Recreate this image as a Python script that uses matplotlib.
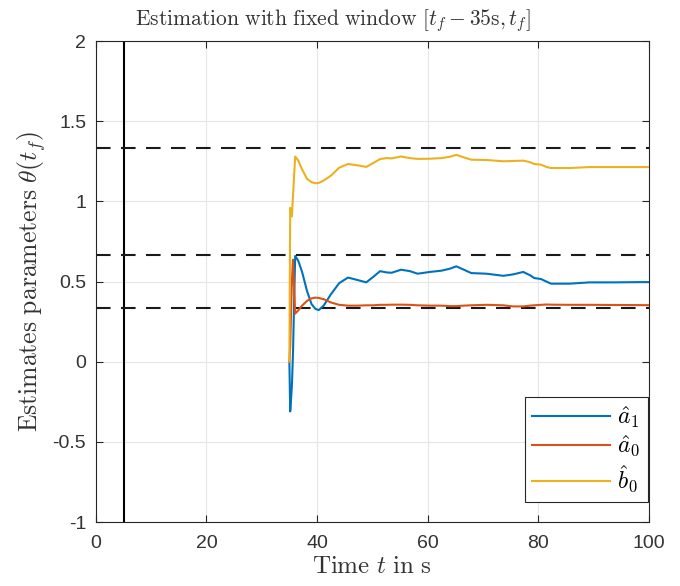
import matplotlib
matplotlib.use("Agg")
import matplotlib.pyplot as plt

# ---- data ----
t = [35, 35.15, 35.45, 35.65, 36.05, 36.6, 37.3, 38.2, 39.0, 39.7, 40.3, 41.2, 42.5, 44.0,
     45.6, 47.3, 48.9, 50.2, 51.4, 52.6, 53.5, 55.2, 56.8, 58.2, 60.4, 62.5, 64.0, 65.2,
     66.5, 67.9, 70.7, 73.7, 75.5, 77.3, 78.5, 79.3, 80.5, 81.5, 82.3, 85.7, 89.3, 93.5, 100]
a1_hat = [0, -0.31, -0.155, 0.05, 0.66, 0.63, 0.56, 0.44, 0.36, 0.33, 0.322, 0.35, 0.42, 0.49,
          0.525, 0.51, 0.495, 0.53, 0.565, 0.557, 0.555, 0.574, 0.565, 0.549, 0.56, 0.568, 0.58, 0.595,
          0.575, 0.553, 0.549, 0.536, 0.545, 0.56, 0.54, 0.522, 0.516, 0.50, 0.487, 0.487, 0.495, 0.495, 0.497]
a0_hat = [0, 0.1, 0.5, 0.636, 0.30, 0.32, 0.35, 0.38, 0.395, 0.40, 0.398, 0.39, 0.37, 0.355,
          0.35, 0.35, 0.352, 0.352, 0.355, 0.355, 0.356, 0.356, 0.355, 0.352, 0.35, 0.35, 0.347, 0.347,
          0.35, 0.352, 0.355, 0.352, 0.345, 0.345, 0.35, 0.352, 0.355, 0.357, 0.356, 0.355, 0.355, 0.354, 0.353]
b0_hat = [0, 0.96, 0.906, 1.03, 1.28, 1.255, 1.20, 1.14, 1.12, 1.113, 1.115, 1.13, 1.16, 1.21,
          1.233, 1.225, 1.215, 1.24, 1.264, 1.27, 1.268, 1.28, 1.27, 1.265, 1.266, 1.27, 1.278, 1.29,
          1.275, 1.26, 1.258, 1.25, 1.252, 1.254, 1.245, 1.233, 1.229, 1.215, 1.208, 1.208, 1.214, 1.214, 1.214]
true_values = [1.3333, 0.6667, 0.3333]
window_start = 5
series_labels = [r'$\hat{a}_1$', r'$\hat{a}_0$', r'$\hat{b}_0$']
xticks = [0, 20, 40, 60, 80, 100]
yticks = [-1, -0.5, 0, 0.5, 1, 1.5, 2]
ytick_labels = ['-1', '-0.5', '0', '0.5', '1', '1.5', '2']

# ---- style ----
plt.rcParams['mathtext.fontset'] = 'cm'
plt.rcParams['font.family'] = ['Liberation Sans', 'DejaVu Sans']
colors = ['#0072BD', '#D95319', '#EDB120']
axcol = '#262626'
txtcol = '#333333'

fig = plt.figure(figsize=(6.8, 5.86), dpi=100)
ax = fig.add_axes([0.141, 0.109, 0.813, 0.821])

ax.axvline(window_start, color='black', lw=1.5, zorder=2)
for v in true_values:
    ax.axhline(v, color='#1a1a1a', lw=1.5, dashes=(7, 5), zorder=2)

for ys, c, lab in zip([a1_hat, a0_hat, b0_hat], colors, series_labels):
    ax.plot(t, ys, color=c, lw=1.5, label=lab, zorder=3)

ax.set_xlim(0, 100)
ax.set_ylim(-1, 2)
ax.set_xticks(xticks)
ax.set_yticks(yticks)
ax.set_yticklabels(ytick_labels)
ax.grid(True, color='#e6e6e6', lw=0.8)
ax.set_axisbelow(True)
ax.tick_params(direction='in', top=True, right=True, colors=axcol, labelcolor=txtcol,
               labelsize=14, length=5, width=0.8)
ax.tick_params(axis='x', pad=9)
ax.tick_params(axis='y', pad=7)
for s in ax.spines.values():
    s.set_color(axcol)
    s.set_linewidth(0.8)

ax.set_title(r'$\mathrm{Estimation\ with\ fixed\ window}\ [t_f-35\mathrm{s},t_f]$',
             fontsize=15.5, color=txtcol, pad=11, x=0.4286)
ax.set_xlabel(r'$\mathrm{Time}\ t\ \mathrm{in\ s}$', fontsize=18, color=txtcol, labelpad=2)
ax.set_ylabel(r'$\mathrm{Estimates\ parameters}\ \theta(t_f)$', fontsize=18.5, color=txtcol, labelpad=3)

leg = ax.legend(loc='lower right', bbox_to_anchor=(0.998, 0.042), fontsize=17,
                fancybox=False, framealpha=1, edgecolor=axcol, handlelength=3.3,
                borderaxespad=0.0, labelspacing=0.18, handletextpad=0.3, borderpad=0.3)
leg.get_frame().set_linewidth(0.8)

fig.savefig('out.png', dpi=100, facecolor='white')
